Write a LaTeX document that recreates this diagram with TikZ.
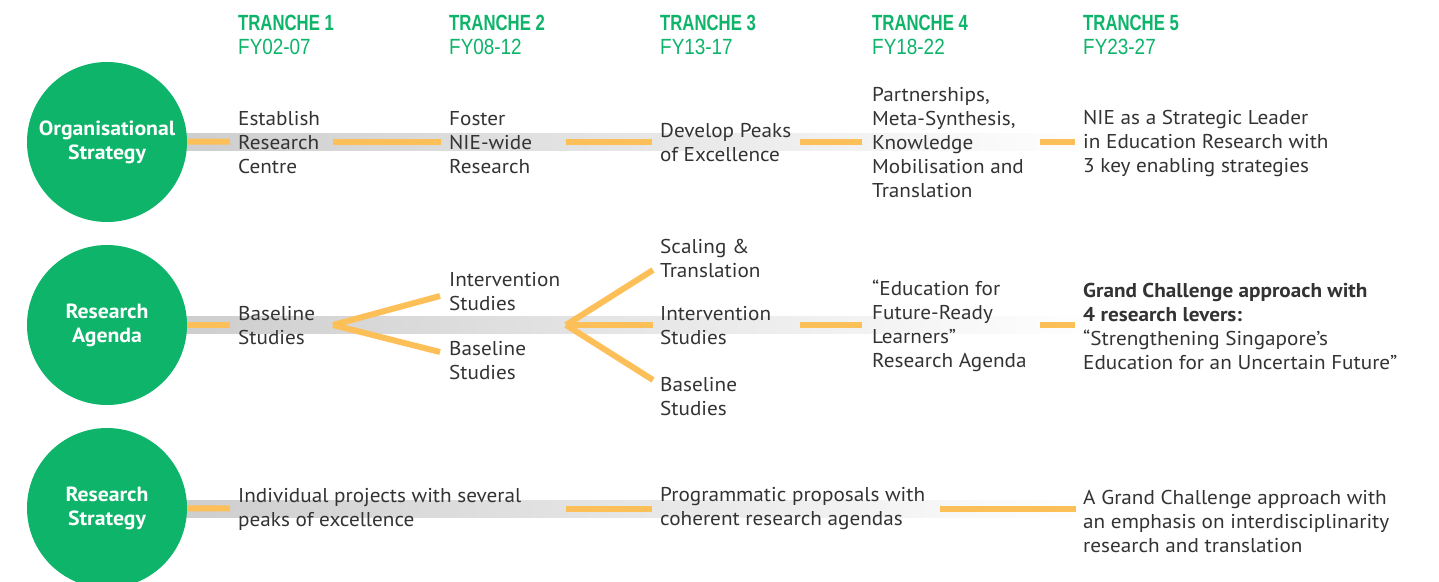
\documentclass[tikz,border=0pt]{standalone}
\usepackage{fontspec}
\setmainfont[FakeStretch=1.06]{PT Sans}
\newfontfamily\headfont[FakeStretch=0.76]{Liberation Sans}
\newfontfamily\yearfont[FakeStretch=0.86]{Liberation Sans}
\usetikzlibrary{positioning}
\definecolor{niegreen}{HTML}{0DB46A}
\definecolor{lineyellow}{HTML}{FDBF57}
\definecolor{txtgrey}{HTML}{333333}
\tikzstyle{bubble}=[circle,fill=niegreen,minimum size=160pt,inner sep=0pt,text=white,align=center,font=\bfseries\fontsize{20.5}{24}\selectfont]
\tikzstyle{cell}=[anchor=west,inner sep=0pt,align=left,text=txtgrey,font=\fontsize{20}{24}\selectfont]
\tikzstyle{tranche}=[anchor=west,inner sep=0pt,text=niegreen,font=\headfont\bfseries\fontsize{22}{24}\selectfont]
\tikzstyle{years}=[anchor=west,inner sep=0pt,text=niegreen,font=\yearfont\fontsize{22}{24}\selectfont]
\tikzstyle{band}=[left color=gray!40,middle color=gray!33,right color=white,draw=none]
\tikzstyle{link}=[draw=lineyellow,line width=6pt]

\begin{document}
\begin{tikzpicture}[x=1pt,y=-1pt]

  \clip (0,0) rectangle (1439,581);
  \fill[white] (0,0) rectangle (1439,581);

  % column heads
  \foreach \x/\n/\fy in {238/1/FY02-07, 449/2/FY08-12, 660/3/FY13-17, 872/4/FY18-22, 1083/5/FY23-27}
  {
     \node[tranche] (t\n) at (\x, 23) {TRANCHE \n};
     \node[years] (fy\n) at (\x, 47) {\fy};
  }

  % grey bands behind the rows
  \foreach \y in {141.5, 325, 508.5}
     \fill[band] (150, \y-8.5) rectangle (1100, \y+8.5);

  \node[bubble] (org) at (107, 142) {Organisational\\Strategy};
  \node[bubble] (agd) at (107, 325) {Research\\Agenda};
  \node[bubble] (str) at (107, 508) {Research\\Strategy};

  % row 1
  \node[cell] (est)  at (238, 143) {Establish\\Research\\Centre};
  \node[cell] (fos)  at (449, 143) {Foster\\NIE-wide\\Research};
  \node[cell] (pea)  at (660, 143) {Develop Peaks\\of Excellence};
  \node[cell] (par)  at (872, 143) {Partnerships,\\Meta-Synthesis,\\Knowledge\\Mobilisation and\\Translation};
  \node[cell] (lead) at (1083, 143) {NIE as a Strategic Leader\\in Education Research with\\3 key enabling strategies};

  % row 2
  \node[cell] (bas1) at (238, 326) {Baseline\\Studies};
  \node[cell] (int2) at (449, 292) {Intervention\\Studies};
  \node[cell] (bas2) at (449, 361) {Baseline\\Studies};
  \node[cell] (sca3) at (660, 258) {Scaling \&\\Translation};
  \node[cell] (int3) at (660, 326) {Intervention\\Studies};
  \node[cell] (bas3) at (660, 397) {Baseline\\Studies};
  \node[cell] (efr)  at (872, 326) {“Education for\\Future-Ready\\Learners”\\Research Agenda};
  \node[cell] (gc)   at (1083, 326) {\textbf{Grand Challenge approach with}\\\textbf{4 research levers:}\\“Strengthening Singapore’s\\Education for an Uncertain Future”};

  % row 3
  \node[cell] (ind)  at (238, 509) {Individual projects with several\\peaks of excellence};
  \node[cell] (prog) at (660, 509) {Programmatic proposals with\\coherent research agendas};
  \node[cell] (gca)  at (1083, 521) {A Grand Challenge approach with\\an emphasis on interdisciplinarity\\research and translation};

  % ends of the yellow links
  \foreach \name/\x/\y in {a1/230/141.5, a2/333/141.5, a3/441/141.5, a4/566/141.5, a5/652/141.5,
                           a6/800/141.5, a7/862/141.5, a8/1040/141.5, a9/1075/141.5,
                           b1/230/325, b2/333/325, b3/440/296, b4/440/352, b5/566/325,
                           b6/653/270, b7/653/325, b8/653/380, b9/800/325, b10/862/325,
                           b11/1040/325, b12/1075/325,
                           c1/230/508.5, c2/566/508.5, c3/652/508.5, c4/940/508.5, c5/1076/508.5}
     \coordinate (\name) at (\x, \y);

  \foreach \source/\dest in {org/a1, a2/a3, a4/a5, a6/a7, a8/a9,
                             agd/b1, b2/b3, b2/b4, b5/b6, b5/b7, b5/b8, b9/b10, b11/b12,
                             str/c1, c2/c3, c4/c5}
     \draw[link] (\source) -- (\dest);

\end{tikzpicture}
\end{document}
